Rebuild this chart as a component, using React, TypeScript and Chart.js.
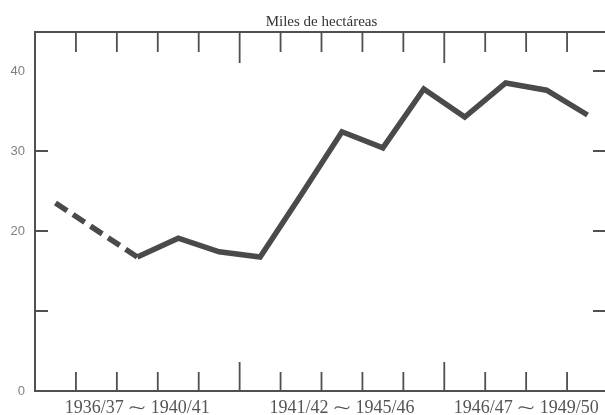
import React, { useEffect, useRef } from 'react';
import { Chart, registerables } from 'chart.js';

Chart.register(...registerables);

// ---- data ----
const years = [
  '1936/37', '1937/38', '1938/39', '1939/40', '1940/41',
  '1941/42', '1942/43', '1943/44', '1944/45', '1945/46',
  '1946/47', '1947/48', '1948/49', '1949/50',
];
const area: (number | null)[] = [
  23.5, null, 16.75, 19.1, 17.4,
  16.75, 24.5, 32.4, 30.4, 37.75,
  34.25, 38.5, 37.6, 34.5,
];
const groupLabels = ['1936/37 ⁓ 1940/41', '1941/42 ⁓ 1945/46', '1946/47 ⁓ 1949/50'];
const groupRanges: [number, number][] = [[0, 4], [5, 9], [10, 13]];
const yTickValues = [0, 10, 20, 30, 40];
const yTickLabels = ['0', '', '20', '30', '40'];
const leftMarks = [10, 20, 30];
const rightMarks = [10, 20, 30, 40];
const majorBoundaries = [4.5, 9.5];
const titleText = 'Miles de hectáreas';

const FRAME = '#505050';

const framePlugin = {
  id: 'frameTicks',
  beforeDatasetsDraw(chart: any) {
    const { ctx, chartArea, scales } = chart;
    const x = scales.x;
    const y = scales.y;
    const { left, right, top, bottom } = chartArea;
    ctx.save();
    ctx.strokeStyle = FRAME;
    ctx.lineWidth = 2;
    ctx.beginPath();
    ctx.moveTo(left - 1, top);
    ctx.lineTo(right, top);
    ctx.lineTo(right, bottom);
    ctx.stroke();
    ctx.lineWidth = 1.8;
    ctx.beginPath();
    for (let i = 1; i < years.length; i++) {
      const b = i - 0.5;
      const px = x.getPixelForValue(b);
      const major = majorBoundaries.includes(b);
      ctx.moveTo(px, top);
      ctx.lineTo(px, top + (major ? 31 : 20));
      ctx.moveTo(px, bottom);
      ctx.lineTo(px, bottom - (major ? 29 : 19));
    }
    leftMarks.forEach((v) => {
      const py = y.getPixelForValue(v);
      ctx.moveTo(left, py);
      ctx.lineTo(left + 13, py);
    });
    rightMarks.forEach((v) => {
      const py = y.getPixelForValue(v);
      ctx.moveTo(right, py);
      ctx.lineTo(right - 15, py);
    });
    ctx.stroke();
    ctx.restore();
  },
};

export default function App() {
  const ref = useRef<HTMLCanvasElement | null>(null);

  useEffect(() => {
    if (!ref.current) return;
    const groupCenters = groupRanges.map(([a, b]) => (a + b) / 2);
    const chart = new Chart(ref.current, {
      type: 'line',
      data: {
        datasets: [
          {
            data: years.map((_, i) => ({ x: i, y: area[i] as any })),
            borderColor: '#4a4a4a',
            borderWidth: 5.5,
            pointRadius: 0,
            tension: 0,
            spanGaps: true,
            borderJoinStyle: 'miter',
            borderCapStyle: 'butt',
            segment: {
              borderDash: (ctx: any) =>
                ctx.p0.skip || ctx.p1.skip ? [14, 7] : undefined,
            },
          } as any,
        ],
      },
      options: {
        animation: false,
        responsive: false,
        layout: { padding: { left: 0, right: 3, top: 0, bottom: 0 } },
        plugins: {
          legend: { display: false },
          tooltip: { enabled: false },
          title: {
            display: true,
            text: titleText,
            fullSize: false,
            color: '#333333',
            font: { family: '"Liberation Serif", serif', size: 15, weight: 'normal' },
            padding: { top: 13, bottom: 1 },
          },
        },
        scales: {
          x: {
            type: 'linear',
            min: -0.5,
            max: years.length - 0.5,
            grid: { display: false, drawTicks: false },
            border: { display: true, color: FRAME, width: 2 },
            afterFit: (s: any) => {
              s.height = 24;
            },
            afterBuildTicks: (s: any) => {
              s.ticks = groupCenters.map((v) => ({ value: v }));
            },
            ticks: {
              autoSkip: false,
              maxRotation: 0,
              padding: 6,
              color: '#555555',
              font: { family: '"Liberation Serif", serif', size: 18 },
              callback: (_v: any, i: number) => groupLabels[i],
            },
          },
          y: {
            type: 'linear',
            min: 0,
            max: 44.875,
            grid: { display: false, drawTicks: false },
            border: { display: true, color: FRAME, width: 2 },
            afterFit: (s: any) => {
              s.width = 35;
            },
            afterBuildTicks: (s: any) => {
              s.ticks = yTickValues.map((v) => ({ value: v }));
            },
            ticks: {
              padding: 10,
              color: '#808080',
              font: { family: '"Liberation Sans", sans-serif', size: 13 },
              callback: (_v: any, i: number) => yTickLabels[i],
            },
          },
        },
      },
      plugins: [framePlugin],
    });
    return () => chart.destroy();
  }, []);

  return (
    <div
      style={{
        position: 'fixed',
        left: 0,
        top: 0,
        width: 605,
        height: 415,
        overflow: 'hidden',
        background: '#ffffff',
      }}
    >
      <canvas ref={ref} width={611} height={415} style={{ display: 'block' }} />
    </div>
  );
}
